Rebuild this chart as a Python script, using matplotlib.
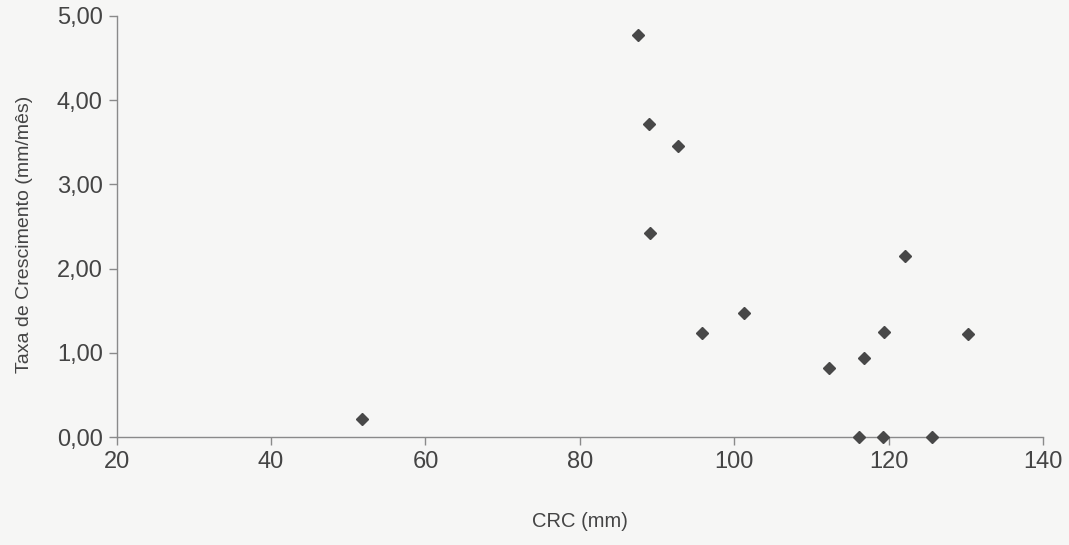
import numpy as np
import matplotlib.pyplot as plt

plt.rcParams['font.family'] = ['Liberation Sans', 'DejaVu Sans']

# CRC (mm) vs taxa de crescimento (mm/mes)
crc = [51.8, 87.5, 88.9, 92.7, 89.1, 95.8, 101.3, 112.3, 116.8, 116.1,
       119.4, 122.1, 119.2, 125.6, 130.3]
taxa = [0.21, 4.77, 3.72, 3.45, 2.42, 1.23, 1.47, 0.82, 0.94, 0.00,
        1.25, 2.15, 0.00, 0.00, 1.22]

xticks = [20, 40, 60, 80, 100, 120, 140]
yticks = [0, 1, 2, 3, 4, 5]
ylabels = ["0,00", "1,00", "2,00", "3,00", "4,00", "5,00"]

fig = plt.figure(figsize=(10.69, 5.45), dpi=100)
fig.patch.set_facecolor('#f6f6f5')
ax = fig.add_axes([0.109, 0.198, 0.867, 0.773])
ax.set_facecolor('#f6f6f5')

ax.plot(crc, taxa, linestyle='none', marker='D', ms=6,
        color='#484848', clip_on=False, zorder=3)

ax.set_xlim(20, 140)
ax.set_ylim(0, 5)
ax.set_xticks(xticks)
ax.set_yticks(yticks)
ax.set_yticklabels(ylabels)

for s in ['top', 'right']:
    ax.spines[s].set_visible(False)
for s in ['left', 'bottom']:
    ax.spines[s].set_color('#8a8a8a')
    ax.spines[s].set_linewidth(1)

ax.tick_params(axis='both', direction='out', length=6, width=1,
               color='#8a8a8a', labelcolor='#444444', labelsize=17)
ax.tick_params(axis='x', pad=4)
ax.tick_params(axis='y', pad=4)

ax.set_xlabel("CRC (mm)", fontsize=14.5, color='#444444', labelpad=28)
ax.set_ylabel("Taxa de Crescimento (mm/mês)", fontsize=14, color='#444444')
ax.yaxis.set_label_coords(-0.09, 0.48)

fig.savefig("out.png", dpi=100, facecolor=fig.get_facecolor())
